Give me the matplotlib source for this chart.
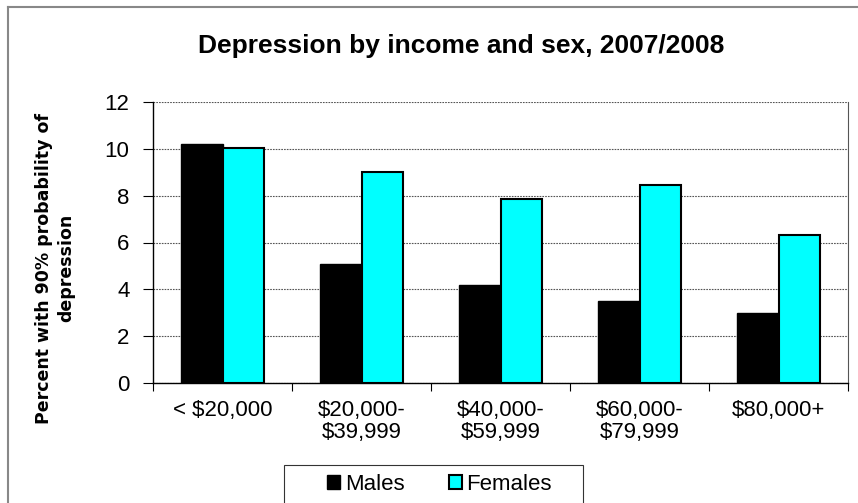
import matplotlib
matplotlib.use("Agg")
import matplotlib.pyplot as plt
import numpy as np
from matplotlib.lines import Line2D
from matplotlib.patches import Rectangle

categories = ["< $20,000", "$20,000-\n$39,999", "$40,000-\n$59,999", "$60,000-\n$79,999", "$80,000+"]
males = [10.2, 5.1, 4.2, 3.5, 3.0]
females = [10.05, 9.0, 7.85, 8.45, 6.3]
series_names = ["Males", "Females"]
title = "Depression by income and sex, 2007/2008"
ylabel = "Percent with 90% probability of\ndepression"

plt.rcParams['font.family'] = ['Liberation Sans', 'DejaVu Sans']

W, H = 858, 503
fig = plt.figure(figsize=(W/100, H/100), dpi=100)
ax = fig.add_axes([153/W, 1-383/H, (848-153)/W, (383-102)/H])

x = np.arange(len(categories))
w = 0.3
ax.bar(x - w/2, males, w, color='black', edgecolor='black', linewidth=1.0, label=series_names[0], zorder=3)
ax.bar(x + w/2, females, w, color='#00FFFF', edgecolor='black', linewidth=1.5, label=series_names[1], zorder=3)

ax.set_xlim(-0.5, len(categories) - 0.5)
ax.set_ylim(0, 12)
ax.set_yticks(np.arange(0, 13, 2))
ax.yaxis.grid(True, linestyle=(0, (1.5, 1)), color='#555555', linewidth=0.8, zorder=0)
ax.set_axisbelow(True)

ax.set_xticks(x)
ax.set_xticklabels(categories, fontsize=16, linespacing=1.1)
ax.set_xticks(np.arange(-0.5, len(categories), 1), minor=True)
ax.tick_params(axis='x', which='major', length=0, pad=12)
ax.tick_params(axis='x', which='minor', length=6, width=0.8, color='black')
ax.tick_params(axis='y', length=7, width=0.8, labelsize=16, pad=10)

ax.spines['top'].set_visible(False)
ax.spines['right'].set_color('#555555')
ax.spines['right'].set_linewidth(0.8)
ax.spines['left'].set_linewidth(1.0)
ax.spines['bottom'].set_linewidth(1.0)

ax.set_ylabel(ylabel, fontsize=12.5, fontweight='bold', family=['DejaVu Sans'], linespacing=1.3)
ax.yaxis.set_label_coords(55.5/W, 1-268/H, transform=fig.transFigure)
ax.yaxis.label.set_va('center')

fig.text(461/W, 1-46/H, title, ha='center', va='center', fontsize=19, fontweight='bold')

handles = [plt.Rectangle((0, 0), 1, 1, facecolor='black', edgecolor='black'),
           plt.Rectangle((0, 0), 1, 1, facecolor='#00FFFF', edgecolor='black', linewidth=1.5)]
fig.add_artist(Rectangle((284/W, -0.05), (583-284)/W, 0.05 + (503-465)/H, transform=fig.transFigure,
                         facecolor='white', edgecolor='#333333', linewidth=0.8, zorder=5))
leg = fig.legend(handles, series_names, loc='center left', bbox_to_anchor=(327/W, 1-484/H),
                 ncol=2, fontsize=16, frameon=False,
                 handlelength=0.6, handleheight=0.6, handletextpad=0.2, columnspacing=2.0,
                 borderpad=0, borderaxespad=0)
leg.set_zorder(6)

# outer chart frame (left and top edges visible)
fig.add_artist(Line2D([8/W, 8/W], [0, 1-7/H], transform=fig.transFigure, color='#888888', linewidth=1.5))
fig.add_artist(Line2D([8/W, 1], [1-7/H, 1-7/H], transform=fig.transFigure, color='#888888', linewidth=1.5))

fig.savefig("out.png", dpi=100)
